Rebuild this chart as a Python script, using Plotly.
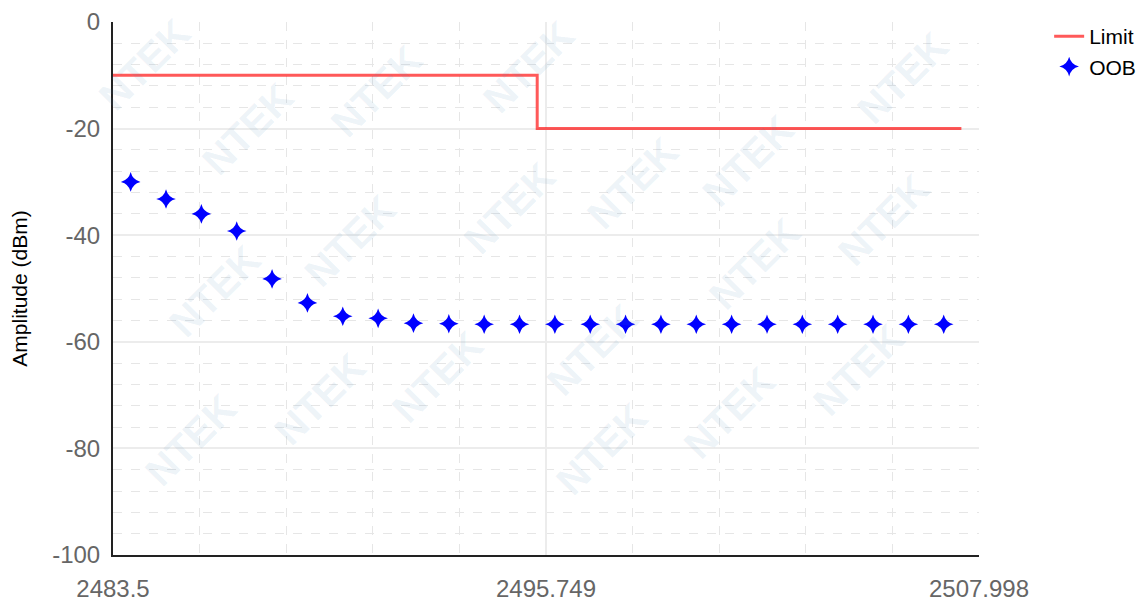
import plotly.graph_objects as go

# ---- data ----
oob_freq = [2484, 2485, 2486, 2487, 2488, 2489, 2490, 2491, 2492, 2493, 2494, 2495,
            2496, 2497, 2498, 2499, 2500, 2501, 2502, 2503, 2504, 2505, 2506, 2507]
oob_amp = [-30.0, -33.2, -36.0, -39.2, -48.2, -52.7, -55.2, -55.6, -56.5, -56.6, -56.7, -56.7,
           -56.7, -56.7, -56.7, -56.7, -56.7, -56.7, -56.7, -56.7, -56.7, -56.7, -56.7, -56.7]
limit_freq = [2483.5, 2495.5, 2495.5, 2507.5]
limit_amp = [-10, -10, -20, -20]
x_tickvals = [2483.5, 2495.749, 2507.998]
x_ticktext = ["2483.5", "2495.749", "2507.998"]
y_tickvals = [0, -20, -40, -60, -80, -100]
y_ticktext = ["0", "-20", "-40", "-60", "-80", "-100"]
watermark_text = "NTEK"
watermark_pos = [(50, 55), (355, 85), (185, 127), (555, 58), (320, 252),
                 (530, 215), (142, 307), (280, 427), (435, 403), (110, 473),
                 (1047, 70), (844, 163), (692, 187), (1022, 228), (852, 277),
                 (639, 373), (989, 395), (819, 443), (651, 483)]

FONT = "Liberation Sans, Arial, sans-serif"

fig = go.Figure()
fig.add_trace(go.Scatter(
    x=limit_freq, y=limit_amp, mode="lines", name="Limit",
    line=dict(color="rgba(255,0,0,0.65)", width=3),
))
fig.add_trace(go.Scatter(
    x=oob_freq, y=oob_amp, mode="markers", name="OOB",
    marker=dict(symbol="star-diamond", size=14, color="#0000ff", line=dict(width=0)),
))

# page body has an 8px margin, so the figure is sized to sit inside the window
OFF = 8
W, H = 1148 - OFF, 601 - OFF
for (px, py) in watermark_pos:
    fig.add_annotation(
        x=(px - OFF) / W, y=1 - (py - OFF) / H, xref="paper", yref="paper",
        text="<b>" + watermark_text + "</b>", showarrow=False, textangle=-45,
        font=dict(family=FONT, size=40, color="rgba(80,140,190,0.10)"),
        xanchor="center", yanchor="middle",
    )

fig.update_layout(
    width=W, height=H,
    margin=dict(l=105, r=169, t=14, b=46, autoexpand=False),
    paper_bgcolor="white", plot_bgcolor="white",
    font=dict(family=FONT),
    showlegend=True,
    legend=dict(
        x=1.081, y=1.011, xanchor="left", yanchor="top",
        font=dict(family=FONT, size=21, color="black"),
        bgcolor="rgba(0,0,0,0)", tracegroupgap=0,
    ),
    xaxis=dict(
        range=[2483.5, 2507.998], automargin=False,
        tickmode="array", tickvals=x_tickvals, ticktext=x_ticktext,
        tickfont=dict(family=FONT, size=24, color="#666666"),
        ticks="", ticklabelstandoff=11,
        showline=True, linecolor="#222222", linewidth=2,
        showgrid=True, gridcolor="#ececec", gridwidth=1.5,
        zeroline=False,
        minor=dict(tick0=2483.5, dtick=(2507.998 - 2483.5) / 10, showgrid=True,
                   gridcolor="#e6e6e6", griddash="dash", gridwidth=1),
    ),
    yaxis=dict(
        range=[-100, 0], automargin=False,
        tickmode="array", tickvals=y_tickvals, ticktext=y_ticktext,
        tickfont=dict(family=FONT, size=24, color="#666666"),
        ticks="", ticklabelstandoff=6,
        showline=True, linecolor="#222222", linewidth=2,
        showgrid=True, gridcolor="#ececec", gridwidth=1.5,
        zeroline=False,
        minor=dict(tick0=0, dtick=4, showgrid=True,
                   gridcolor="#e6e6e6", griddash="dash", gridwidth=1),
        title=dict(text="Amplitude (dBm)", font=dict(family=FONT, size=21, color="black"),
                   standoff=20),
    ),
)

fig.write_html("out.html")
